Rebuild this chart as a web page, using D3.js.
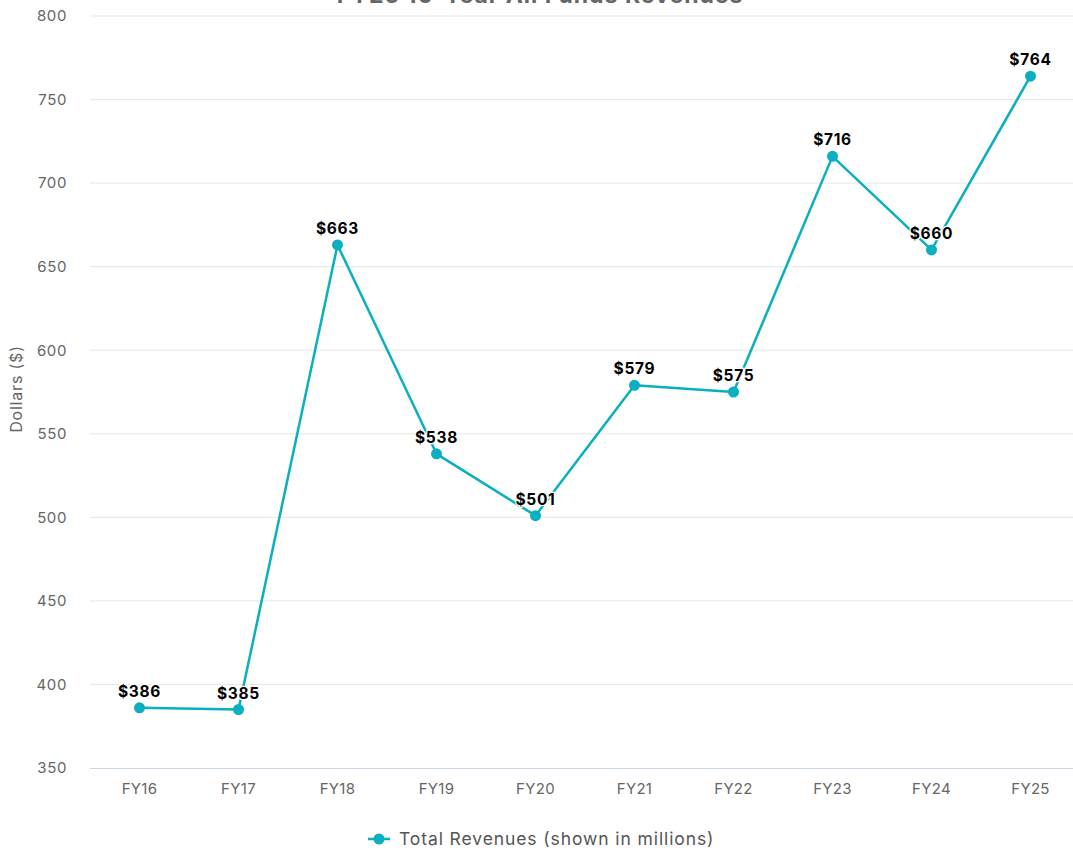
<!DOCTYPE html>
<html>
<head>
<meta charset="utf-8">
<script src="https://cdn.jsdelivr.net/npm/d3@7"></script>
<style>
  html, body { margin: 0; padding: 0; background: #fff; }
  svg { display: block; font-family: "Inter", "Open Sans", sans-serif; }
</style>
</head>
<body>
<svg id="chart" width="1073" height="850"></svg>
<script>
// Fiscal years and total revenues (millions of dollars)
const categories = ["FY16", "FY17", "FY18", "FY19", "FY20", "FY21", "FY22", "FY23", "FY24", "FY25"];
const revenues = [386, 385, 663, 538, 501, 579, 575, 716, 660, 764];
const yTicks = [350, 400, 450, 500, 550, 600, 650, 700, 750, 800];
const chartTitle = "FY25 10-Year All Funds Revenues";
const seriesName = "Total Revenues (shown in millions)";
const yTitle = "Dollars ($)";

const lineColor = "#0aafc0";
const svg = d3.select("#chart");

const plot = { left: 90, right: 1073, top: 16, bottom: 768 };

const x = d3.scaleBand().domain(categories).range([plot.left, plot.left + 99 * categories.length]);
const y = d3.scaleLinear().domain([350, 800]).range([plot.bottom, plot.top]);

// Title (sits partly above the top edge)
svg.append("text")
  .attr("x", 540).attr("y", 3)
  .attr("text-anchor", "middle")
  .attr("font-size", 23).attr("font-weight", 700)
  .attr("letter-spacing", 1)
  .attr("fill", "#666")
  .text(chartTitle);

// Horizontal gridlines
svg.append("g")
  .selectAll("line")
  .data(yTicks.filter(d => d !== 350))
  .join("line")
  .attr("x1", plot.left).attr("x2", plot.right)
  .attr("y1", d => y(d)).attr("y2", d => y(d))
  .attr("stroke", "#e6e6e6").attr("stroke-width", 1);

// Y axis labels
const yAxis = d3.axisLeft(y).tickValues(yTicks).tickSize(0).tickPadding(0);
const yg = svg.append("g").attr("transform", `translate(67,0)`).call(yAxis);
yg.select(".domain").remove();
yg.selectAll("text").attr("font-size", 15).attr("fill", "#666")
  .attr("letter-spacing", 0.6)
  .attr("font-family", "Inter, 'Open Sans', sans-serif");

// Y axis title
svg.append("text")
  .attr("transform", `translate(22,${(plot.top + plot.bottom) / 2 - 3}) rotate(-90)`)
  .attr("text-anchor", "middle")
  .attr("font-size", 16).attr("fill", "#666")
  .attr("letter-spacing", 0.8)
  .text(yTitle);

// X axis baseline and labels
const xAxis = d3.axisBottom(x).tickSize(0).tickPadding(15);
const xg = svg.append("g").attr("transform", `translate(0,${plot.bottom})`).call(xAxis);
xg.select(".domain").attr("stroke", "#ccd6eb").attr("d", `M${plot.left},0.5H${plot.right}`);
xg.selectAll("text").attr("font-size", 15).attr("fill", "#666")
  .attr("letter-spacing", 0.3)
  .attr("font-family", "Inter, 'Open Sans', sans-serif");

const cx = d => x(d) + x.bandwidth() / 2;
const points = categories.map((c, i) => ({ c, v: revenues[i] }));

// Series line
svg.append("path")
  .datum(points)
  .attr("fill", "none")
  .attr("stroke", lineColor)
  .attr("stroke-width", 2.5)
  .attr("stroke-linejoin", "round")
  .attr("d", d3.line().x(d => cx(d.c)).y(d => y(d.v)));

// Markers
svg.append("g")
  .selectAll("circle")
  .data(points)
  .join("circle")
  .attr("cx", d => cx(d.c)).attr("cy", d => y(d.v))
  .attr("r", 5.5)
  .attr("fill", lineColor);

// Value labels
svg.append("g")
  .selectAll("text")
  .data(points)
  .join("text")
  .attr("x", d => cx(d.c)).attr("y", d => y(d.v) - 11)
  .attr("text-anchor", "middle")
  .attr("font-size", 15.5).attr("font-weight", 700)
  .attr("letter-spacing", 0.7)
  .attr("fill", "#000")
  .attr("stroke", "#fff").attr("stroke-width", 2.5).attr("paint-order", "stroke")
  .text(d => "$" + d.v);

// Legend
const lg = svg.append("g").attr("transform", "translate(368,839)");
lg.append("line").attr("x1", 0).attr("x2", 22).attr("y1", 0).attr("y2", 0)
  .attr("stroke", lineColor).attr("stroke-width", 2.5);
lg.append("circle").attr("cx", 11).attr("cy", 0).attr("r", 5.5).attr("fill", lineColor);
lg.append("text").attr("x", 31).attr("y", 6)
  .attr("font-size", 17.5).attr("fill", "#555")
  .attr("letter-spacing", 0.9)
  .text(seriesName);
</script>
</body>
</html>
